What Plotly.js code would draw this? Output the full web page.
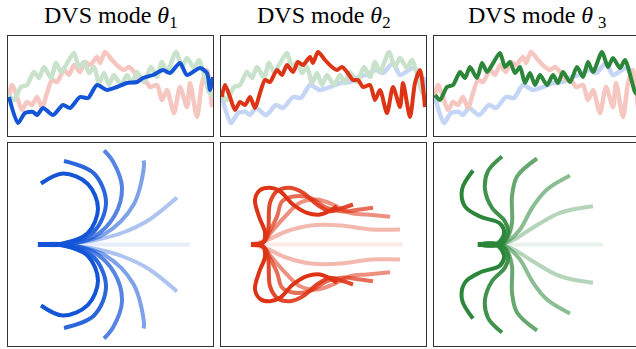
<!DOCTYPE html>
<html><head><meta charset="utf-8">
<script src="https://cdn.plot.ly/plotly-3.0.1.min.js"></script>
<style>html,body{margin:0;padding:0;overflow:hidden;background:#fff}</style>
</head><body>
<div id="chart" style="width:642px;height:349px"></div>
<script>
// ---- titles ----
const titles = ["DVS mode <i>θ</i><sub>1</sub>", "DVS mode <i>θ</i><sub>2</sub>", "DVS mode <i>θ</i>\u2009<sub>3</sub>"];

// ---- top row: three signals (t, value) ----
const blueT = [1,10,17,25,29,35,45,55,62,72,80,89,99,109,119,129,135,145,155,162,172,179,192,199,202,205];
const blueV = [39,13,23,24,21,28,21,31,28,39,38,51,46,49,53,54,58,61,66,63,73,61,68,63,46,59];
const redT = [0.7,4,9,14,19,24,29,34,39,44,49,56,61,66,72,77,82,89,92,97,104,111,116,121,126,132,137,142,149,154,159,166,172,179,182,189,194,199,204];
const redV = [39,51,39,26,34,31,39,28,43,56,54,66,61,71,64,74,71,79,73,84,76,69,66,69,64,56,56,49,51,36,46,23,49,29,53,19,53,66,29];
const greenT = [1,6,13,19,26,31,36,43,48,53,58,66,71,76,81,86,91,96,101,106,113,119,124,129,136,143,149,154,159,168,174,179,186,191,198,201,205];
const greenV = [41,36,49,51,64,58,69,58,73,64,71,83,69,74,63,69,53,63,51,61,51,61,53,64,54,69,59,74,64,84,69,78,68,76,54,44,40];

// ---- bottom row: rod shapes (x, y), from lightest to darkest ----
const mode1X = [
  [30,182],
  [30,60,90,115,140,169], [30,60,90,115,140,169],
  [30,57,96.5,125.4,136,135.5], [30,57,96.5,125.4,136,135.5],
  [30,57,85.5,106.4,114,105,96], [30,57,85.5,106.4,114,105,96],
  [30,57,86,98,86,56], [30,57,86,98,86,56],
  [30,55,79.7,90,79.7,55,33], [30,55,79.7,90,79.7,55,33]
];
const mode1Y = [
  [0,0],
  [0,1,5,12,24,47], [0,-1,-5,-12,-24,-47],
  [0,0,10.6,39.5,79,84], [0,0,-10.6,-39.5,-79,-84],
  [0,0,7.6,28.5,57,83,94], [0,0,-7.6,-28.5,-57,-83,-94],
  [0,1,13,42,71,83.5], [0,-1,-13,-42,-71,-83.5],
  [0,1,11.3,36,60.7,71,61], [0,-1,-11.3,-36,-60.7,-71,-61]
];
const mode2X = [
  [30,182],
  [30,45,65,90,120,150,179], [30,45,65,90,120,150,179],
  [30,42,50,66,79,96,112,129,146,169], [30,42,50,66,79,96,112,129,146,169],
  [30,42,48,56,61,72,89,106,122,139,152], [30,42,48,56,61,72,89,106,122,139,152],
  [30,42,47,49,56,69,82,96,109,122,132], [30,42,47,49,56,69,82,96,109,122,132],
  [30,42,44,38,34,39,49,59,72,86,99,111,116], [30,42,44,38,34,39,49,59,72,86,99,111,116]
];
const mode2Y = [
  [0,0],
  [0,4,13,19,19,15,15], [0,-4,-13,-19,-19,-15,-15],
  [0,2,12,30,41.7,45,40,31.7,30,27.7], [0,-2,-12,-30,-41.7,-45,-40,-31.7,-30,-27.7],
  [0,2,12,28,43,48,46.7,36.7,33,35,36.7], [0,-2,-12,-28,-43,-48,-46.7,-36.7,-33,-35,-36.7],
  [0,2,14,41.7,53.3,56.7,51.7,40,33.3,36.7,40], [0,-2,-14,-41.7,-53.3,-56.7,-51.7,-40,-33.3,-36.7,-40],
  [0,2,12,28,45,54.3,56.7,53.3,40,31.7,30,35,38.3], [0,-2,-12,-28,-45,-54.3,-56.7,-53.3,-40,-31.7,-30,-35,-38.3]
];
const mode3X = [
  [44,169],
  [44,66,80,96,126,159], [44,66,80,96,126,159],
  [44,66,76,86,99,113,136], [44,66,76,86,99,113,136],
  [44,66,74,78,78,83,103], [44,66,74,78,78,83,103],
  [44,66,74,71,58,51,54,68], [44,66,74,71,58,51,54,68],
  [44,62,70,66,46,31,28,39], [44,62,70,66,46,31,28,39]
];
const mode3Y = [
  [0,0],
  [0,0,5,15,31.7,38.3], [0,0,-5,-15,-31.7,-38.3],
  [0,0,5,15,38,55,69], [0,0,-5,-15,-38,-55,-69],
  [0,0,8,22,48,68,86], [0,0,-8,-22,-48,-68,-86],
  [0,0,11.7,23,36.7,55,73.3,88], [0,0,-11.7,-23,-36.7,-55,-73.3,-88],
  [0,0,11,21,28,38,55,74], [0,0,-11,-21,-28,-38,-55,-74]
];
const curveAlpha = [0.1, 0.35,0.35, 0.55,0.55, 0.72,0.72, 0.9,0.9, 1,1];

// ---- styles ----
const base = {blue:[20,85,215], red:[222,52,22], green:[44,134,58]};
const faded = {blue:'rgb(196,213,246)', red:'rgb(246,199,193)', green:'rgb(201,226,204)'};
const strong = {blue:'rgb(20,85,215)', red:'rgb(222,52,22)', green:'rgb(44,134,58)'};
const series = [
  {k:'blue', t:blueT, v:blueV},
  {k:'red', t:redT, v:redV},
  {k:'green', t:greenT, v:greenV}
];
const modes = [
  {k:'blue', X:mode1X, Y:mode1Y},
  {k:'red', X:mode2X, Y:mode2Y},
  {k:'green', X:mode3X, Y:mode3Y}
];

const W = 642, H = 349;
const colPx = [[8,213],[221,426],[434,639]];
const topPx = [36,136], botPx = [143,346];

const data = [];
const layout = {
  width: W, height: H, margin:{l:0,r:0,t:0,b:0},
  paper_bgcolor:'#fff', plot_bgcolor:'#fff', showlegend:false,
  annotations: [], font:{family:'Liberation Serif'}
};
function ax(domain, range, anchor) {
  return {domain: domain, range: range, anchor: anchor, showgrid:false, zeroline:false,
    showticklabels:false, ticks:'', showline:true, mirror:true, linecolor:'#333', linewidth:1, fixedrange:true};
}
for (let c = 0; c < 3; c++) {
  const xd = [colPx[c][0]/W, colPx[c][1]/W];
  const ti = 2*c+1, bi = 2*c+2;
  const tx = 'x'+ti, ty = 'y'+ti, bx = 'x'+bi, by = 'y'+bi;
  layout['xaxis'+ti] = ax(xd, [0,205], ty);
  layout['yaxis'+ti] = ax([1-topPx[1]/H, 1-topPx[0]/H], [0,100], tx);
  layout['xaxis'+bi] = ax(xd, [0,205], by);
  layout['yaxis'+bi] = ax([1-botPx[1]/H, 1-botPx[0]/H], [-101.5,101.5], bx);
  // top signals: faded first, highlighted last
  const hk = modes[c].k;
  series.filter(s => s.k !== hk).concat(series.filter(s => s.k === hk)).forEach(s => {
    const hi = s.k === hk;
    data.push({type:'scatter', mode:'lines', x:s.t, y:s.v, xaxis:tx, yaxis:ty, hoverinfo:'skip',
      line:{color: hi ? strong[s.k] : faded[s.k], width: hi ? 4 : 4.5, shape:'spline', smoothing:0.7}});
  });
  // bottom rods
  const m = modes[c];
  const rgb = base[m.k];
  m.X.forEach((xs, i) => {
    data.push({type:'scatter', mode:'lines', x:xs, y:m.Y[i], xaxis:bx, yaxis:by, hoverinfo:'skip',
      line:{color:`rgba(${rgb[0]},${rgb[1]},${rgb[2]},${curveAlpha[i]})`, width:4, shape:'spline', smoothing:1}});
  });
  layout.annotations.push({text: titles[c], xref:'paper', yref:'paper', x:(colPx[c][0]+colPx[c][1])/2/W,
    y: 1-17/H, xanchor:'center', yanchor:'middle', showarrow:false,
    font:{family:'Liberation Serif', size:24, color:'#000'}});
}
Plotly.newPlot('chart', data, layout, {staticPlot:true, displayModeBar:false});
</script>
</body></html>
